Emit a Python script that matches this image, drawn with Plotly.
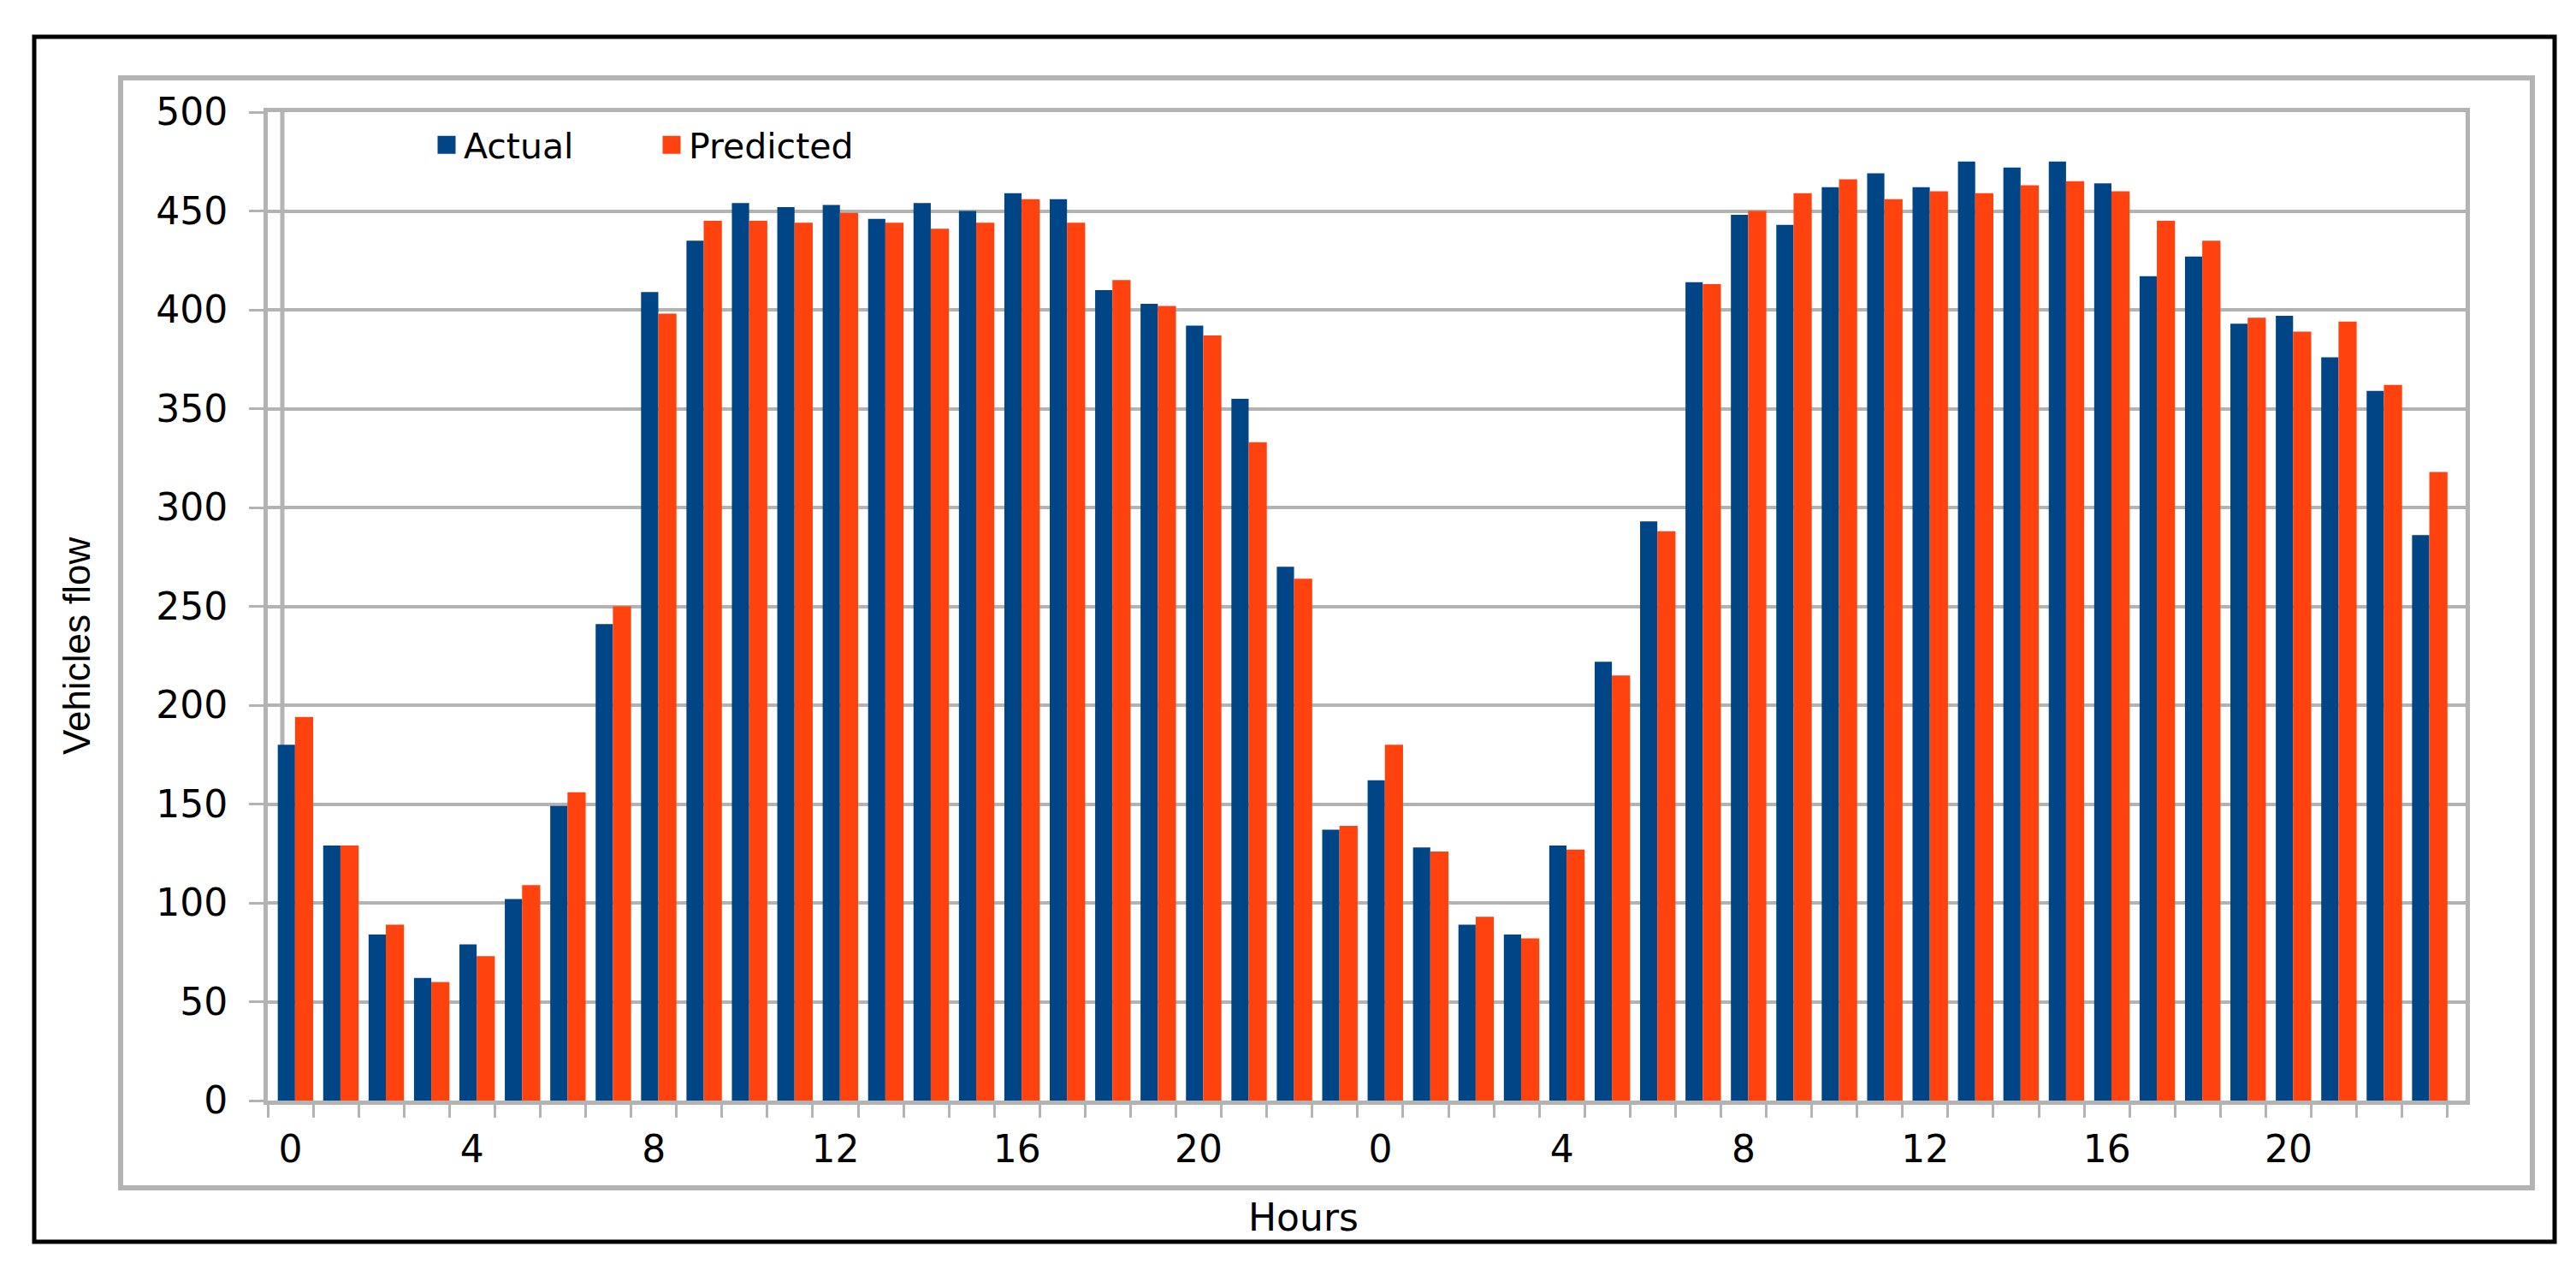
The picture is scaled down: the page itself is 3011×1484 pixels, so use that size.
import plotly.graph_objects as go

# ---- data -------------------------------------------------------------
hours = list(range(24)) + list(range(24))          # two consecutive days
actual = [180, 129, 84, 62, 79, 102, 149, 241, 409, 435, 454, 452,
          453, 446, 454, 450, 459, 456, 410, 403, 392, 355, 270, 137,
          162, 128, 89, 84, 129, 222, 293, 414, 448, 443, 462, 469,
          462, 475, 472, 475, 464, 417, 427, 393, 397, 376, 359, 286]
predicted = [194, 129, 89, 60, 73, 109, 156, 250, 398, 445, 445, 444,
             449, 444, 441, 444, 456, 444, 415, 402, 387, 333, 264, 139,
             180, 126, 93, 82, 127, 215, 288, 413, 450, 459, 466, 456,
             460, 459, 463, 465, 460, 445, 435, 396, 389, 394, 362, 318]
series_names = ["Actual", "Predicted"]
y_ticks = list(range(0, 501, 50))
x_label_every = 4

# ---- style ------------------------------------------------------------
W, H = 3011, 1484
ML, MR, MT, MB = 305, 137, 123, 206
BLUE, ORANGE = "#004586", "#ff420e"
GRID = "#b3b3b3"
FONT = "DejaVu Sans, Liberation Sans, Arial, sans-serif"
FONT_V = "Liberation Sans, Arial, sans-serif"

PW = W - ML - MR
PH = H - MT - MB


def px_x(px):
    return (px - ML) / PW


def px_y(py):
    return (H - MB - py) / PH


idx = list(range(len(hours)))
tickvals = [i for i in idx if hours[i] % x_label_every == 0]
ticktext = [str(hours[i]) for i in tickvals]

fig = go.Figure()
fig.add_trace(go.Bar(x=idx, y=actual, name=series_names[0],
                     width=0.38, offset=-0.28,
                     marker=dict(color=BLUE, line=dict(width=0)),
                     showlegend=False))
fig.add_trace(go.Bar(x=idx, y=predicted, name=series_names[1],
                     width=0.40, offset=0.10,
                     marker=dict(color=ORANGE, line=dict(width=0)),
                     showlegend=False))
# legend entries (bigger square symbols than bar legend swatches)
for nm, col in zip(series_names, [BLUE, ORANGE]):
    fig.add_trace(go.Scatter(x=[None], y=[None], mode="markers", name=nm,
                             marker=dict(symbol="square", size=16, color=col,
                                         line=dict(color=col, width=5))))

fig.update_layout(
    width=W, height=H, autosize=False,
    margin=dict(l=ML, r=MR, t=MT, b=MB, pad=0),
    paper_bgcolor="white", plot_bgcolor="white",
    barmode="overlay",
    font=dict(family=FONT, size=44, color="#000000"),
    legend=dict(orientation="h", x=px_x(494), y=px_y(128),
                xanchor="left", yanchor="top",
                font=dict(family=FONT, size=41, color="#000000"),
                bgcolor="rgba(0,0,0,0)", entrywidth=218,
                entrywidthmode="pixels", itemsizing="trace"),
    showlegend=True,
)

fig.update_xaxes(
    range=[-0.5, len(idx) - 0.1], tickmode="array",
    tickvals=tickvals, ticktext=ticktext, ticks="", showgrid=False,
    zeroline=False, showline=True, linecolor=GRID, linewidth=5, mirror=True,
    tickfont=dict(family=FONT, size=44), ticklabelstandoff=14,
    minor=dict(tick0=-0.5, dtick=1, ticks="outside", ticklen=15,
               tickcolor=GRID, tickwidth=3, showgrid=False),
)
fig.update_yaxes(
    range=[0, 500], tickmode="array", tickvals=y_ticks,
    ticks="outside", ticklen=17, tickcolor=GRID, tickwidth=3,
    showgrid=True, gridcolor=GRID, gridwidth=4, zeroline=False,
    showline=True, linecolor=GRID, linewidth=5, mirror=True,
    tickfont=dict(family=FONT, size=44), ticklabelstandoff=16,
)

# back-wall edge (3D look of the original)
fig.add_shape(type="line", xref="paper", yref="paper",
              x0=px_x(322), x1=px_x(322), y0=0, y1=1,
              line=dict(color=GRID, width=5), layer="below")
# outer frames
fig.add_shape(type="rect", xref="paper", yref="paper",
              x0=px_x(133), x1=px_x(2952), y0=px_y(1380), y1=px_y(83),
              line=dict(color=GRID, width=6), layer="below")
fig.add_shape(type="rect", xref="paper", yref="paper",
              x0=px_x(32), x1=px_x(2978), y0=px_y(1443), y1=px_y(35),
              line=dict(color="#000000", width=5), layer="below")

# axis titles
fig.add_annotation(text="Hours", xref="paper", yref="paper",
                   x=px_x(1515), y=px_y(1414), xanchor="center",
                   yanchor="middle", showarrow=False,
                   font=dict(family=FONT, size=44, color="#000000"))
fig.add_annotation(text="Vehicles flow", xref="paper", yref="paper",
                   x=px_x(81), y=px_y(747), xanchor="center",
                   yanchor="middle", showarrow=False, textangle=-90,
                   font=dict(family=FONT_V, size=44, color="#000000"))

fig.write_html("out.html")
